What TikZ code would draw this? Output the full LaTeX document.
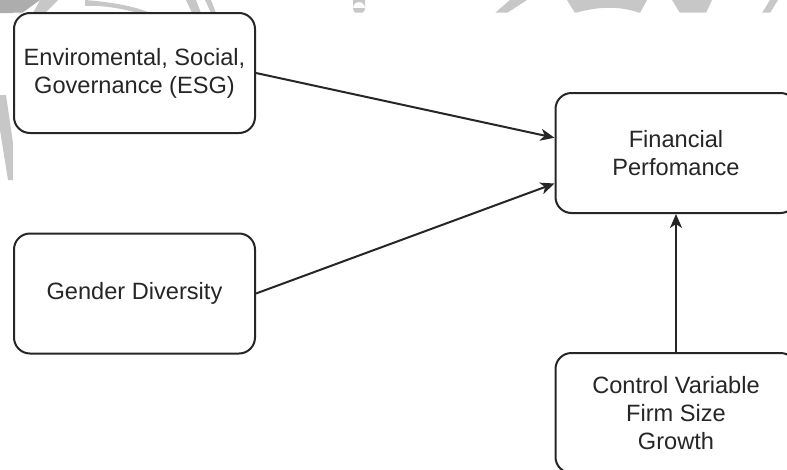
\documentclass[tikz,border=0pt]{standalone}
\usepackage{fontspec}
\setmainfont{Liberation Sans}
\usetikzlibrary{arrows.meta,calc}
\begin{document}
\begin{tikzpicture}[x=1pt,y=-1pt,
  box/.style={draw=black!85, line width=2pt, rounded corners=16pt, rectangle,
    minimum width=241pt, minimum height=120pt, inner sep=0pt, align=center,
    font=\fontsize{23.6}{28}\selectfont, text=black!85},
  arr/.style={draw=black!85, line width=2pt,
    -{Stealth[length=14pt,width=12pt,inset=4pt]}},
  wm/.style={fill=black!22, draw=none}]
\useasboundingbox (0,0) rectangle (787,469);
% faint watermark visible in the margins
\begin{scope}
  \clip (0,0) rectangle (787,12.5) (0,0) rectangle (13,469);
  \fill[black!32] (-5,0) -- (40,0) -- (22,13) -- (-5,13) -- cycle;
  \fill[wm] (40,0) -- (58,0) -- (45,13) -- (33,13) -- cycle;
  \fill[wm] (85,0) .. controls (110,2) and (135,6) .. (150,13) -- (138,13) .. controls (120,8) and (100,5) .. (85,6) -- cycle;
  \fill[wm] (186,0) -- (196,0) -- (201,13) -- (192,13) -- cycle;
  \fill[wm] (205,0) -- (211,0) -- (216,13) -- (211,13) -- cycle;
  \fill[wm] (353,-5) rectangle (365,8) (359,8) circle (6);
  \fill[wm] (510,0) -- (527,0) -- (507,13) -- (495,13) -- cycle;
  \fill[wm] (567,0) -- (647,0) -- (640,13) .. controls (620,6) and (600,6) .. (575,13) -- cycle;
  \fill[wm] (672,0) -- (712,0) -- (706,13) -- (680,13) -- cycle;
  \fill[wm] (770,0) -- (778,0) -- (770,13) -- (762,13) -- cycle;
  \fill[wm] (0,95) -- (6,95) -- (14,150) -- (14,180) -- (8,180) -- (0,130) -- cycle;
\end{scope}
\fill[white] (13,12.5) rectangle (787,469);
% boxes
\node[box] (esg) at (134.5,73) {Enviromental, Social,\\Governance (ESG)};
\node[box] (gd) at (134.5,293.5) {Gender Diversity};
\node[box] (fin) at (676,153) {Financial\\Perfomance};
\node[box] (ctrl) at (676,413) {Control Variable\\Firm Size\\Growth};
% connectors
\coordinate (finA) at ($(fin.north west)!0.375!(fin.south west)$);
\coordinate (finB) at ($(fin.north west)!0.75!(fin.south west)$);
\draw[arr] (esg.east) -- (finA);
\draw[arr] (gd.east) -- (finB);
\draw[arr] (ctrl.north) -- (fin.south);
\end{tikzpicture}
\end{document}
